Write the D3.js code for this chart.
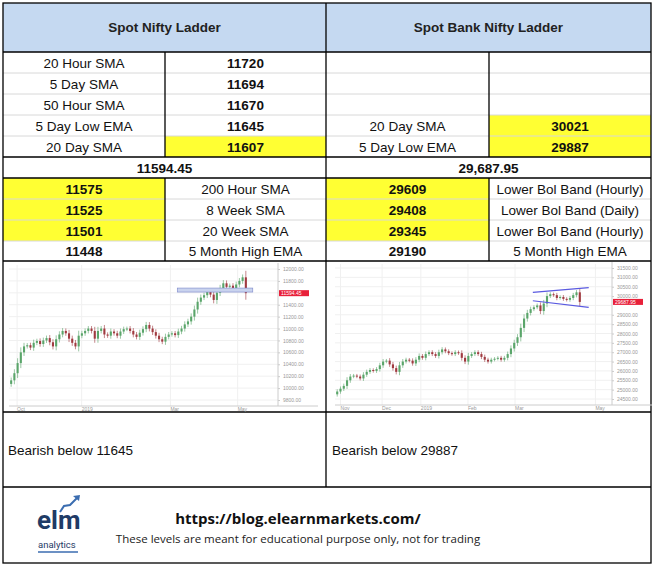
<!DOCTYPE html>
<html><head><meta charset="utf-8">
<script src="https://d3js.org/d3.v7.min.js"></script>
<style>body{margin:0;background:#fff}svg{font-family:Arial,"Liberation Sans",sans-serif}</style>
</head><body><svg id="c" width="654" height="566"></svg>
<script>
const titles = ["Spot Nifty Ladder", "Spot Bank Nifty Ladder"];
const niftyUpper = [["20 Hour SMA","11720",false],["5 Day SMA","11694",false],["50 Hour SMA","11670",false],["5 Day Low EMA","11645",false],["20 Day SMA","11607",true]];
const bankUpper = [["","",false],["","",false],["","",false],["20 Day SMA","30021",true],["5 Day Low EMA","29887",true]];
const niftyPrice = "11594.45", bankPrice = "29,687.95";
const niftyLower = [["11575","200 Hour SMA",true],["11525","8 Week SMA",true],["11501","20 Week SMA",true],["11448","5 Month High EMA",false]];
const bankLower = [["29609","Lower Bol Band (Hourly)",true],["29408","Lower Bol Band (Daily)",true],["29345","Lower Bol Band (Hourly)",true],["29190","5 Month High EMA",false]];
const notes = ["Bearish below 11645", "Bearish below 29887"];
const niftyCloses = [10130,10250,10420,10600,10700,10720,10680,10760,10790,10740,10800,10840,10770,10700,10820,10900,10960,10920,10830,10760,10700,10880,10920,10960,11000,10960,10830,10960,11000,10900,10880,10950,10920,10880,10950,10990,11000,10960,10900,10860,10930,10990,11060,11000,10940,10880,10820,10780,10860,10900,10920,10890,10950,11000,11070,11120,11200,11320,11450,11520,11560,11620,11570,11480,11600,11680,11760,11700,11720,11680,11740,11800,11860,11594];
const niftyTicks = [9800,10000,10200,10400,10600,10800,11000,11200,11400,11600,11800,12000];
const bankCloses = [24900,25050,25200,25500,25700,25750,25700,25600,25800,25950,26050,26000,26100,26300,26500,26550,26350,26150,25950,26300,26500,26600,26550,26400,26600,26800,26700,26900,27000,26900,26800,27000,27150,27050,26950,26900,27000,26950,26700,26500,26800,26900,27000,26900,26750,26600,26500,26600,26650,26700,26600,26700,26900,27200,27500,27800,28300,28800,29100,29300,29400,29500,29200,29600,30000,30100,30050,29900,29950,29850,29800,29900,30050,30200,29688];
const bankTicks = [24500,25000,25500,26000,26500,27000,27500,28000,28500,29000,29500,30000,30500,31000,31500];
const niftyMonths = [["Oct",0.03],["2019",0.27],["Mar",0.6],["May",0.85]];
const bankMonths = [["Nov",0.02],["Dec",0.17],["2019",0.31],["Feb",0.48],["Mar",0.65],["May",0.94]];

const svg = d3.select("#c");
const L=3,R=651,M=326,SL=165,SR=489;
const rowY=[52,73,94,115,136,157,178,199,220,241,261];
[[L,M],[M,R]].forEach((c,i)=>{
  svg.append("rect").attr("x",c[0]).attr("y",3).attr("width",c[1]-c[0]).attr("height",49).attr("fill","#c5d9f1");
  svg.append("text").attr("x",(c[0]+c[1])/2).attr("y",32).attr("text-anchor","middle").attr("font-weight","bold").attr("font-size",13.5).attr("fill","#222").text(titles[i]);
});
function cell(x0,x1,y0,y1,t,bold,yel){
  if(yel) svg.append("rect").attr("x",x0).attr("y",y0).attr("width",x1-x0).attr("height",y1-y0).attr("fill","#ffff33");
  svg.append("text").attr("x",(x0+x1)/2).attr("y",(y0+y1)/2+5).attr("text-anchor","middle").attr("font-size",13.5).attr("font-weight",bold?"bold":"normal").attr("fill","#111").text(t);
}
niftyUpper.forEach((r,i)=>{cell(L,SL,rowY[i],rowY[i+1],r[0],false,false);cell(SL,M,rowY[i],rowY[i+1],r[1],true,r[2]);});
bankUpper.forEach((r,i)=>{cell(M,SR,rowY[i],rowY[i+1],r[0],false,false);cell(SR,R,rowY[i],rowY[i+1],r[1],true,r[2]);});
cell(L,M,157,178,niftyPrice,true,false);cell(M,R,157,178,bankPrice,true,false);
niftyLower.forEach((r,i)=>{cell(L,SL,rowY[i+6],rowY[i+7],r[0],true,r[2]);cell(SL,M,rowY[i+6],rowY[i+7],r[1],false,false);});
bankLower.forEach((r,i)=>{cell(M,SR,rowY[i+6],rowY[i+7],r[0],true,r[2]);cell(SR,R,rowY[i+6],rowY[i+7],r[1],false,false);});
const g=svg.append("g").attr("stroke","#d8d8d8");
[73,94,115,136,199,220,241].forEach(y=>g.append("line").attr("x1",L).attr("x2",R).attr("y1",y).attr("y2",y));
const k=svg.append("g").attr("stroke","#000").attr("stroke-width",1.3).attr("fill","none");
k.append("rect").attr("x",L).attr("y",3).attr("width",R-L).attr("height",560);
[52,157,178,261,412,487].forEach(y=>k.append("line").attr("x1",L).attr("x2",R).attr("y1",y).attr("y2",y));
k.append("line").attr("x1",M).attr("x2",M).attr("y1",3).attr("y2",487);
[[SL,52,157],[SL,178,261],[SR,52,157],[SR,178,261]].forEach(a=>k.append("line").attr("x1",a[0]).attr("x2",a[0]).attr("y1",a[1]).attr("y2",a[2]));
notes.forEach((t,i)=>svg.append("text").attr("x",i?332:8).attr("y",455).attr("font-size",13.5).attr("fill","#111").text(t));

function chart(x0,x1,yTop,yBot,closes,ticks,months,last,fmtLast){
  const x=d3.scaleBand().domain(d3.range(closes.length)).range([x0,x1-30]).padding(0.35);
  const y=d3.scaleLinear().domain([ticks[0],ticks[ticks.length-1]]).range([yBot,yTop]);
  const step=ticks[1]-ticks[0];
  const gg=svg.append("g");
  ticks.forEach(t=>gg.append("line").attr("x1",x0).attr("x2",x1).attr("y1",y(t)).attr("y2",y(t)).attr("stroke","#f0f0f0"));
  months.forEach(m=>gg.append("line").attr("x1",x0+(x1-x0)*m[1]).attr("x2",x0+(x1-x0)*m[1]).attr("y1",yTop-4).attr("y2",yBot+6).attr("stroke","#f0f0f0"));
  gg.append("line").attr("x1",x1).attr("x2",x1).attr("y1",yTop-6).attr("y2",yBot+6).attr("stroke","#ccc");
  gg.append("line").attr("x1",x0).attr("x2",x1+40).attr("y1",yBot+6).attr("y2",yBot+6).attr("stroke","#ccc");
  const shown=ticks.filter(t=>Math.abs(y(t)-y(last))>5);
  const ax=d3.axisRight(y).tickValues(shown).tickFormat(d3.format(".2f")).tickSize(2);
  const a=svg.append("g").attr("transform",`translate(${x1},0)`).call(ax);
  a.select(".domain").remove();
  a.selectAll("text").attr("font-size",5).attr("fill","#999");
  a.selectAll("line").attr("stroke","#ccc");
  months.forEach(m=>svg.append("text").attr("x",x0+(x1-x0)*m[1]).attr("y",yBot+11).attr("font-size",5).attr("fill","#999").text(m[0]));
  closes.forEach((c,i)=>{
    const o=i?closes[i-1]:c-0.3*step;
    const col=c>=o?"#5aa56a":"#a03a40";
    const sp=Math.abs(c-o)*0.3+step*0.15;
    gg.append("line").attr("x1",x(i)+x.bandwidth()/2).attr("x2",x(i)+x.bandwidth()/2).attr("y1",y(Math.max(c,o)+sp)).attr("y2",y(Math.min(c,o)-sp)).attr("stroke",col).attr("opacity",0.6);
    gg.append("rect").attr("x",x(i)).attr("width",x.bandwidth()).attr("y",y(Math.max(c,o))).attr("height",Math.max(1,Math.abs(y(c)-y(o)))).attr("fill",col);
  });
  svg.append("rect").attr("x",x1+1).attr("y",y(last)-3).attr("width",30).attr("height",6).attr("fill","#e8203a");
  svg.append("text").attr("x",x1+3).attr("y",y(last)+2).attr("font-size",5).attr("fill","#fff").text(fmtLast);
  return {x,y};
}
const n=chart(9,278,269,400,niftyCloses,niftyTicks,niftyMonths,11594,"11594.45");
svg.append("rect").attr("x",n.x(52)).attr("y",n.y(11680)).attr("width",n.x(73)+8-n.x(52)).attr("height",4).attr("fill","#c9d3ee").attr("stroke","#7b86c9").attr("stroke-width",0.6);
const b=chart(335,612,268,399,bankCloses,bankTicks,bankMonths,29688,"29687.95");
const bl=svg.append("g").attr("stroke","#5a5ae0").attr("stroke-width",1.2);
bl.append("line").attr("x1",b.x(60)).attr("x2",b.x(74)+10).attr("y1",b.y(30200)).attr("y2",b.y(30450));
bl.append("line").attr("x1",b.x(60)).attr("x2",b.x(74)+10).attr("y1",b.y(29750)).attr("y2",b.y(29400));

svg.append("text").attr("x",298).attr("y",524).attr("text-anchor","middle").attr("font-weight","bold").attr("font-size",15).attr("font-family","Open Sans,sans-serif").attr("fill","#111").text("https://blog.elearnmarkets.com/");
svg.append("text").attr("x",298).attr("y",543).attr("text-anchor","middle").attr("font-size",11.5).attr("font-family","Open Sans,sans-serif").attr("fill","#222").text("These levels are meant for educational purpose only, not for trading");
svg.append("text").attr("x",37).attr("y",529).attr("font-size",26).attr("font-weight","bold").attr("font-family","Roboto,sans-serif").attr("fill","#1f3b66").text("elm");
svg.append("text").attr("x",38).attr("y",548).attr("font-size",9.5).attr("font-family","Roboto,sans-serif").attr("fill","#1f3b66").text("analytics");
svg.append("line").attr("x1",38).attr("x2",78).attr("y1",552).attr("y2",552).attr("stroke","#3b6db0").attr("stroke-width",1.5);
svg.append("path").attr("d","M60,512 L64,506 L70,505 L78,497").attr("fill","none").attr("stroke","#3b6db0").attr("stroke-width",2);
svg.append("path").attr("d","M80,495 L73,496 L79,501 Z").attr("fill","#3b6db0");
</script></body></html>
